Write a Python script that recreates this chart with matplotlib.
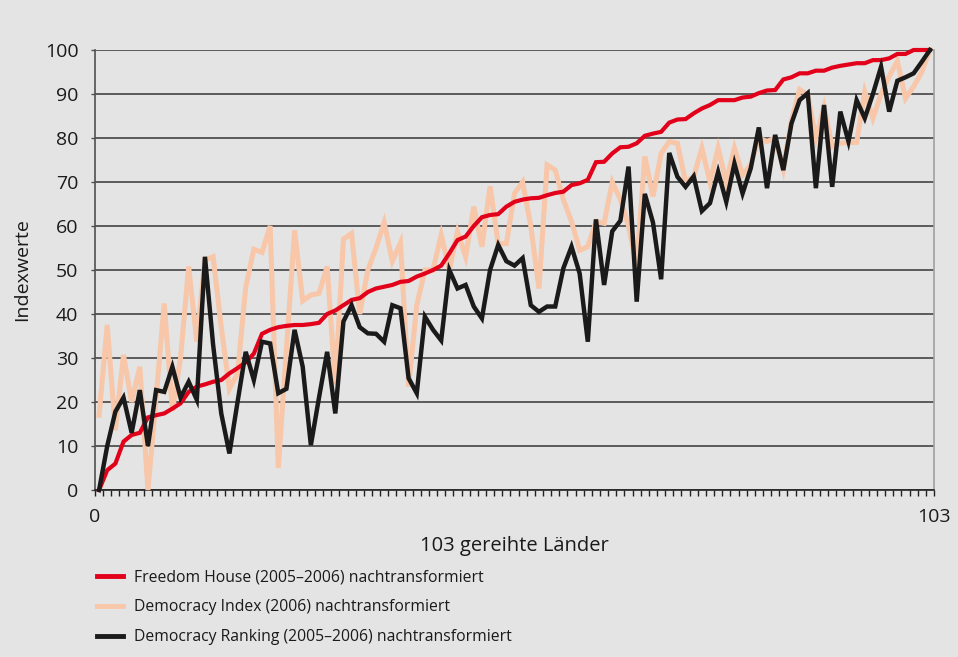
import matplotlib
matplotlib.use("Agg")
import matplotlib.pyplot as plt
import numpy as np
from matplotlib.ticker import FixedLocator

plt.rcParams['font.family'] = ['Open Sans', 'DejaVu Sans']

# ---- data (103 ranked countries) ----
freedom_house = [
    0, 4.5, 6, 11, 12.5, 13, 16.5, 17, 17.4, 18.5, 19.7, 22.3, 23.5, 24, 24.6, 25,
    26.5, 27.7, 29, 31, 35.5, 36.4, 37, 37.3, 37.5, 37.5, 37.7, 38, 40, 40.8, 42,
    43.2, 43.6, 45, 45.8, 46.2, 46.6, 47.3, 47.5, 48.5, 49.2, 50, 51, 53.8, 56.8,
    57.6, 60, 62, 62.5, 62.7, 64.4, 65.5, 66, 66.3, 66.4, 67, 67.5, 67.8, 69.3,
    69.7, 70.5, 74.5, 74.6, 76.5, 77.9, 78, 78.8, 80.5, 81, 81.4, 83.5, 84.2, 84.3,
    85.6, 86.7, 87.5, 88.6, 88.6, 88.6, 89.2, 89.4, 90.2, 90.8, 90.9, 93.3, 93.8,
    94.7, 94.7, 95.3, 95.3, 96, 96.4, 96.7, 97, 97, 97.7, 97.7, 98.1, 99.1, 99.1,
    100, 100, 100]

democracy_index = [
    17, 37.5, 13.6, 30.7, 20, 28, 0, 21, 42.4, 18, 30, 50.8, 33.7, 52.3, 53, 37,
    23, 26.5, 46, 54.7, 54, 60, 5, 32, 59, 43, 44.3, 44.7, 50.8, 24, 57, 58.3, 40,
    50, 55, 60.8, 52, 56.2, 23.5, 42, 50, 50, 58, 50, 58.7, 53, 64.4, 55.3, 69, 56,
    56, 67.4, 70, 60, 45.8, 73.9, 72.7, 66, 61, 54.5, 55.3, 61, 60.6, 70, 66, 60,
    50.8, 75.8, 66.7, 76.5, 79.2, 78.8, 70, 71.2, 77.7, 70, 77.7, 70, 77.7, 71.6,
    73.9, 80, 79.2, 80, 73, 84, 91, 89.8, 80, 87, 78, 78.8, 79, 79, 90.5, 84.5, 90,
    94, 97.5, 89, 91.7, 95, 100]

democracy_ranking = [
    0, 10, 17.8, 21, 13, 22.7, 10, 22.7, 22.3, 28, 21, 24.6, 20.5, 53, 33, 17.4,
    8.3, 20, 31.4, 25, 33.7, 33.3, 22, 23, 36.4, 28, 10.2, 21, 31.4, 17.4, 38.3,
    42, 37, 35.6, 35.5, 33.7, 42, 41.3, 25.4, 22, 39.4, 36.4, 34, 50, 45.8, 46.6,
    41.7, 39, 50, 55.7, 52, 51, 52.7, 42, 40.5, 41.7, 41.7, 50.4, 55.3, 49.2, 33.7,
    61.5, 46.6, 58.8, 61.2, 73.5, 42.8, 67.3, 60.8, 47.9, 76.6, 71.2, 68.9, 71.3,
    63.4, 65.2, 72.3, 65.5, 74.2, 67.4, 73.1, 82.4, 68.6, 80.7, 72.7, 83.3, 88.6,
    90.2, 68.6, 87.5, 68.9, 86, 79.2, 88.6, 84.5, 90, 96.2, 86, 93, 93.8, 94.7,
    97.3, 100]

series_labels = [
    'Freedom House (2005–2006) nachtransformiert',
    'Democracy Index (2006) nachtransformiert',
    'Democracy Ranking (2005–2006) nachtransformiert',
]
y_ticks = [0, 10, 20, 30, 40, 50, 60, 70, 80, 90, 100]
x_tick_labels = ['0', '103']
x_label = '103 gereihte Länder'
y_label = 'Indexwerte'

# ---- styling ----
BG = '#e3e4e3'
RED = '#e2001a'
PEACH = '#f8c6a8'
BLACK = '#1b1a1a'
GRID = '#505050'

W, H = 958, 657
fig = plt.figure(figsize=(W / 100, H / 100), dpi=100, facecolor=BG)
ax = fig.add_axes([95 / W, 1 - 490 / H, (934 - 95) / W, (490 - 50) / H])
ax.set_facecolor(BG)

n = len(freedom_house)
x = np.arange(n)

l_fh, = ax.plot(x, freedom_house, color=RED, lw=3.0, zorder=4, clip_on=False,
                solid_joinstyle='miter', label=series_labels[0])
l_di, = ax.plot(x, democracy_index, color=PEACH, lw=3.6, zorder=3, clip_on=False,
                solid_joinstyle='miter', label=series_labels[1])
l_dr, = ax.plot(x, democracy_ranking, color=BLACK, lw=3.2, zorder=5, clip_on=False,
                solid_joinstyle='miter', label=series_labels[2])

ax.set_xlim(-0.5, n - 0.5)
ax.set_ylim(0, 100)

ax.set_yticks(y_ticks)
ax.yaxis.grid(True, color=GRID, lw=1.3)
ax.set_axisbelow(True)

ax.set_xticks([-0.5, n - 0.5])
ax.set_xticklabels(x_tick_labels)
ax.xaxis.set_minor_locator(FixedLocator(np.arange(n + 1) - 0.5))

ax.tick_params(axis='y', which='major', direction='out', length=3, width=1,
               color=GRID, labelsize=14, pad=9, labelcolor='#1a1a1a')
ax.tick_params(axis='x', which='both', direction='out', length=4, width=1,
               color='#222222', labelsize=14, pad=9, labelcolor='#1a1a1a')

ax.spines['top'].set_visible(False)
ax.spines['right'].set_color('#a0a0a0')
ax.spines['right'].set_linewidth(1.2)
ax.spines['left'].set_color(GRID)
ax.spines['left'].set_linewidth(1.2)
ax.spines['bottom'].set_color('#222222')
ax.spines['bottom'].set_linewidth(1.2)

ax.set_xlabel(x_label, fontsize=14.5, color='#1a1a1a', labelpad=7)
ax.set_ylabel(y_label, fontsize=14, color='#1a1a1a', labelpad=10)

leg = fig.legend(handles=[l_fh, l_di, l_dr], labels=series_labels,
                 loc='upper left', bbox_to_anchor=(97 / W, 1 - 569 / H),
                 frameon=False, fontsize=11.3, handlelength=1.65,
                 handletextpad=0.7, labelspacing=0.9, borderpad=0,
                 borderaxespad=0)
for t in leg.get_texts():
    t.set_color('#1a1a1a')
for h in leg.legend_handles:
    h.set_linewidth(3.5)

fig.savefig('out.png', dpi=100, facecolor=BG)
